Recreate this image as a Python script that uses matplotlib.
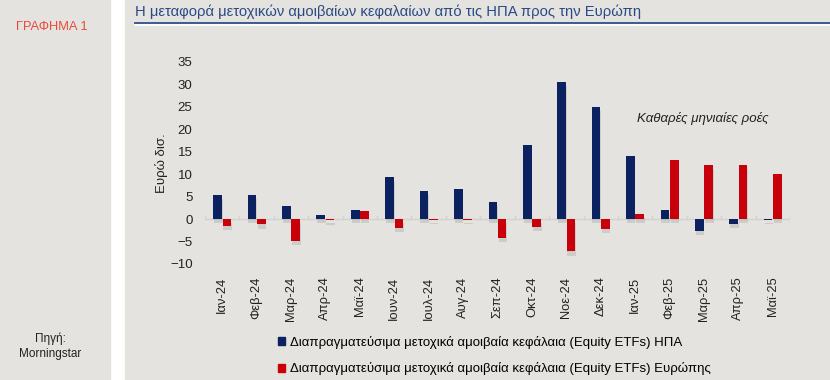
import numpy as np
import matplotlib.pyplot as plt
import matplotlib.patheffects as pe
from matplotlib.patches import Rectangle
from matplotlib.lines import Line2D

plt.rcParams['font.family'] = ['Liberation Sans', 'DejaVu Sans']

months = ['Ιαν-24', 'Φεβ-24', 'Μαρ-24', 'Απρ-24', 'Μαϊ-24', 'Ιουν-24', 'Ιουλ-24',
          'Αυγ-24', 'Σεπ-24', 'Οκτ-24', 'Νοε-24', 'Δεκ-24', 'Ιαν-25', 'Φεβ-25',
          'Μαρ-25', 'Απρ-25', 'Μαϊ-25']
usa = [5.4, 5.4, 3.0, 1.0, 2.1, 9.3, 6.2, 6.7, 3.8, 16.5, 30.5, 25.0, 14.0, 2.1, -2.6, -1.1, -0.1]
europe = [-1.6, -1.2, -4.8, -0.3, 1.7, -1.9, -0.1, -0.1, -4.1, -1.7, -7.2, -2.2, 1.2, 13.1, 12.0, 12.0, 10.1]
yticks = [-10, -5, 0, 5, 10, 15, 20, 25, 30, 35]

label_usa = 'Διαπραγματεύσιμα μετοχικά αμοιβαία κεφάλαια (Equity ETFs) ΗΠΑ'
label_eu = 'Διαπραγματεύσιμα μετοχικά αμοιβαία κεφάλαια (Equity ETFs) Ευρώπης'

bg = '#e4e3df'
navy = '#0b2160'
red = '#c8000a'

W, H = 830, 380
fig = plt.figure(figsize=(W / 100, H / 100), dpi=100, facecolor='white')

# background panels
fig.patches.append(Rectangle((0, 0), 110 / W, 1, transform=fig.transFigure, color=bg, zorder=-5))
fig.patches.append(Rectangle((125 / W, 0), 1 - 125 / W, 1, transform=fig.transFigure, color=bg, zorder=-5))

# title and header line
fig.text(135 / W, 1 - 12 / H, 'Η μεταφορά μετοχικών αμοιβαίων κεφαλαίων από τις ΗΠΑ προς την Ευρώπη',
         fontsize=10.6, color='#2a4a85', va='center', ha='left')
fig.add_artist(Line2D([135 / W, 1], [1 - 22.5 / H] * 2, transform=fig.transFigure, color='#2f4f8a', lw=1.3))
fig.add_artist(Line2D([135 / W, 1], [1 - 25 / H] * 2, transform=fig.transFigure, color='white', lw=1.2))

fig.text(52 / W, 1 - 27 / H, 'ΓΡΑΦΗΜΑ 1', fontsize=9.3, color='#ea4a3c', ha='center', va='center')
fig.text(50 / W, 1 - 346 / H, 'Πηγή:\nMorningstar', fontsize=8.5, color='#222222',
         ha='center', va='center', linespacing=1.3)

ax = fig.add_axes([205 / W, 1 - 264 / H, 585 / W, 202 / H])
ax.set_facecolor('none')

x = np.arange(len(months))
w = 0.25
shadow = [pe.SimplePatchShadow(offset=(0.5, -3), shadow_rgbFace='#888888', alpha=0.25), pe.Normal()]
b1 = ax.bar(x - 0.135, usa, w, color=navy, zorder=3)
b2 = ax.bar(x + 0.135, europe, w, color=red, zorder=3)
for b in list(b1) + list(b2):
    b.set_path_effects(shadow)

ax.set_xlim(-0.5, len(months) - 0.5)
ax.set_ylim(-10, 35)
ax.set_yticks(yticks)
ax.tick_params(axis='y', length=0, labelsize=9.5, labelcolor='#222222', pad=9)

for s in ax.spines.values():
    s.set_visible(False)
ax.axhline(0, color='#d2d2d0', lw=1, zorder=1)
for b in np.arange(-0.5, len(months), 1.0):
    ax.plot([b, b], [0, 0.8], color='#d2d2d0', lw=1, zorder=1)

ax.set_xticks(x)
ax.set_xticklabels(months, rotation=90, fontsize=9.3, color='#222222')
ax.tick_params(axis='x', length=0, pad=9)

ax.set_ylabel('Ευρώ δισ.', fontsize=9.5, color='#222222')
ax.yaxis.set_label_coords((168 - 205) / 585, 0.5)

fig.text(703 / W, 1 - 118 / H, 'Καθαρές μηνιαίες ροές', fontsize=9.5, style='italic',
         color='#222222', ha='center', va='center')

handles = [Rectangle((0, 0), 1, 1, color=navy), Rectangle((0, 0), 1, 1, color=red)]
fig.legend(handles, [label_usa, label_eu], loc='upper left', bbox_to_anchor=(278 / W, 1 - 336 / H),
           frameon=False, fontsize=9.5, handlelength=0.55, handleheight=0.55, handletextpad=0.35,
           labelspacing=1.0, borderaxespad=0, borderpad=0)

fig.savefig('out.png', dpi=100, facecolor='white')
